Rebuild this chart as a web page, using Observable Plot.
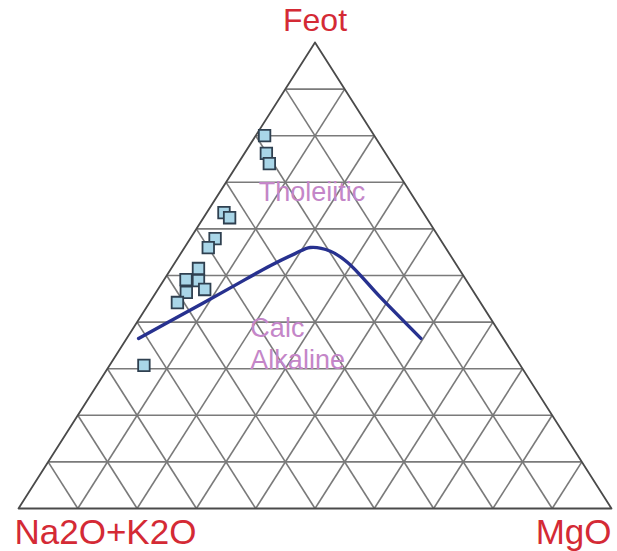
<!DOCTYPE html>
<html>
<head>
<meta charset="utf-8">
<script src="https://cdn.jsdelivr.net/npm/d3@7"></script>
<script src="https://cdn.jsdelivr.net/npm/@observablehq/plot@0.6"></script>
<style>
  html, body { margin: 0; padding: 0; background: #fff; }
  svg { display: block; }
</style>
</head>
<body>
<div id="chart"></div>
<script>
// Ternary components in percent: F = Feot, A = Na2O+K2O, M = MgO
const gridTicks = [10, 20, 30, 40, 50, 60, 70, 80, 90];

// Samples
const sampleF = [80.0, 76.2, 74.0, 63.5, 62.4, 57.9, 56.0, 51.5, 48.9, 49.1, 46.4, 47.0, 44.2, 30.7];
const sampleA = [18.5, 20.1, 20.7, 33.6, 33.2, 37.9, 40.0, 43.9, 45.2, 47.2, 48.5, 45.1, 51.2, 63.5];
const sampleM = [1.5, 3.7, 5.3, 2.9, 4.4, 4.2, 4.0, 4.6, 5.9, 3.7, 5.1, 7.9, 4.7, 5.8];

// Tholeiitic / calc-alkaline dividing line
const lineF = [36.5, 41.4, 47.4, 52.1, 54.7, 56.0, 55.2, 52.8, 45.3, 36.5];
const lineA = [61.5, 52.0, 40.5, 31.5, 26.0, 22.8, 19.8, 18.1, 16.3, 13.9];
const lineM = [2.0, 6.6, 12.1, 16.4, 19.3, 21.2, 25.0, 29.1, 38.4, 49.6];

// Field labels
const fieldNames = ["Tholeiitic", "Calc", "Alkaline"];
const fieldF = [67.8, 38.6, 31.8];
const fieldM = [6.6, 19.8, 23.2];

// Corner labels
const cornerNames = ["Feot", "Na2O+K2O", "MgO"];
const cornerF = [100, 0, 0];
const cornerM = [0, 0, 100];

const tx = (M, F) => M + F / 2;
const ty = (F) => F;

const samples = sampleF.map((F, i) => ({F, A: sampleA[i], M: sampleM[i]}));
const curve = lineF.map((F, i) => ({F, A: lineA[i], M: lineM[i]}));
const fields = fieldNames.map((name, i) => ({name, F: fieldF[i], M: fieldM[i]}));
const corners = cornerNames.map((name, i) => ({name, F: cornerF[i], M: cornerM[i]}));
const outline = [{F: 100, M: 0}, {F: 0, M: 0}, {F: 0, M: 100}, {F: 100, M: 0}];

const gridColor = "#7a7a7a";
const labelColor = "#d42a35";
const fieldColor = "#c486c8";

const chart = Plot.plot({
  width: 617,
  height: 551,
  marginLeft: 18,
  marginRight: 6,
  marginTop: 42,
  marginBottom: 43,
  x: {domain: [0, 100], axis: null},
  y: {domain: [0, 100], axis: null},
  style: {background: "#fff", fontFamily: "Liberation Sans, Arial, sans-serif"},
  marks: [
    // constant Feot
    Plot.link(gridTicks, {
      x1: t => tx(0, t), y1: t => ty(t),
      x2: t => tx(100 - t, t), y2: t => ty(t),
      stroke: gridColor, strokeWidth: 1.6
    }),
    // constant Na2O+K2O
    Plot.link(gridTicks, {
      x1: t => tx(0, 100 - t), y1: t => ty(100 - t),
      x2: t => tx(100 - t, 0), y2: t => ty(0),
      stroke: gridColor, strokeWidth: 1.6
    }),
    // constant MgO
    Plot.link(gridTicks, {
      x1: t => tx(t, 100 - t), y1: t => ty(100 - t),
      x2: t => tx(t, 0), y2: t => ty(0),
      stroke: gridColor, strokeWidth: 1.6
    }),
    Plot.line(outline, {x: d => tx(d.M, d.F), y: d => ty(d.F), stroke: "#4a4a4a", strokeWidth: 1.8}),
    Plot.text(fields, {
      x: d => tx(d.M, d.F), y: d => ty(d.F), text: "name",
      textAnchor: "start", fill: fieldColor, fontSize: 27
    }),
    Plot.line(curve, {
      x: d => tx(d.M, d.F), y: d => ty(d.F),
      stroke: "#27318f", strokeWidth: 3.4, curve: "catmull-rom"
    }),
    Plot.dot(samples, {
      x: d => tx(d.M, d.F), y: d => ty(d.F),
      symbol: "square", r: 6.5, fill: "#a9d6e8", stroke: "#2f4050", strokeWidth: 1.8
    }),
    Plot.text(corners.slice(0, 1), {
      x: d => tx(d.M, d.F), y: d => ty(d.F), text: "name",
      dy: -22, fill: labelColor, fontSize: 32
    }),
    Plot.text(corners.slice(1, 2), {
      x: d => tx(d.M, d.F), y: d => ty(d.F), text: "name",
      dy: 24, dx: -4, textAnchor: "start", fill: labelColor, fontSize: 35
    }),
    Plot.text(corners.slice(2, 3), {
      x: d => tx(d.M, d.F), y: d => ty(d.F), text: "name",
      dy: 24, dx: 0, textAnchor: "end", fill: labelColor, fontSize: 35
    })
  ]
});
document.getElementById("chart").append(chart);
</script>
</body>
</html>
